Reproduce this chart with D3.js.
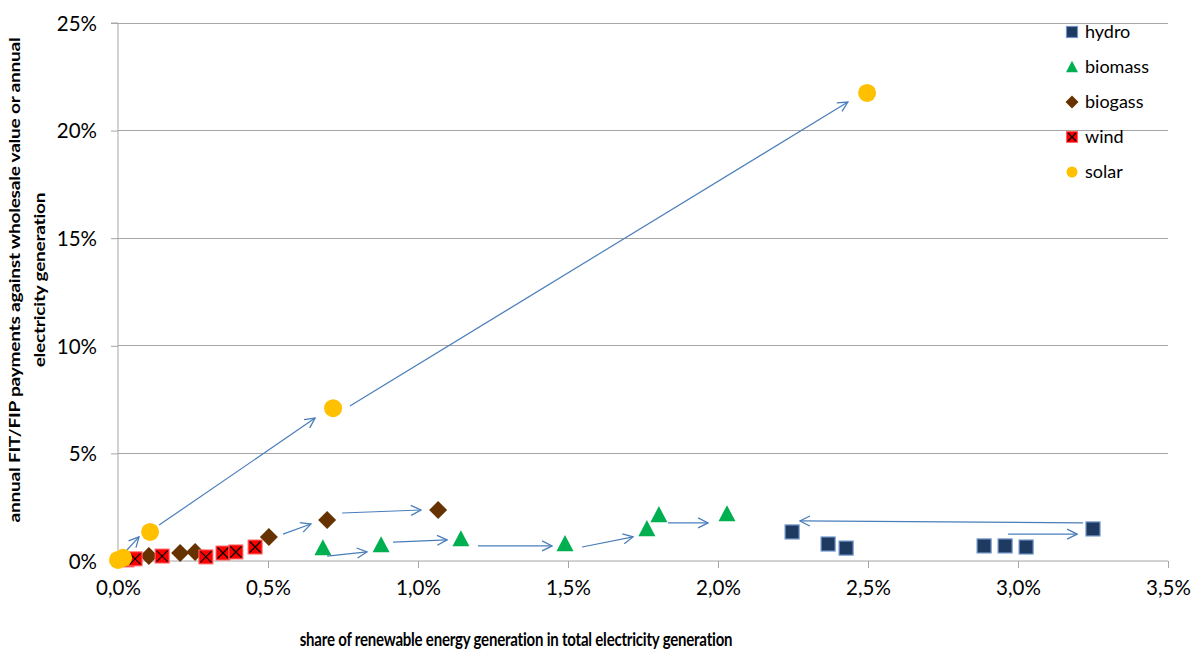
<!DOCTYPE html>
<html>
<head>
<meta charset="utf-8">
<script src="https://cdn.jsdelivr.net/npm/d3@7"></script>
<style>
  html, body { margin: 0; padding: 0; background: #fff; }
  svg { display: block; font-family: Lato, "Open Sans", sans-serif; }
</style>
</head>
<body>
<svg id="chart" width="1195" height="657"></svg>
<script>
// ---- data (x: share of RES generation %, y: FIT/FIP payments %) ----
const hydroX   = [2.247, 2.367, 2.427, 2.887, 2.957, 3.027, 3.25];
const hydroY   = [1.35, 0.79, 0.60, 0.70, 0.70, 0.65, 1.49];
const biomassX = [0.683, 0.877, 1.143, 1.49, 1.763, 1.803, 2.03];
const biomassY = [0.60, 0.74, 1.02, 0.79, 1.49, 2.14, 2.18];
const biogasX  = [0.103, 0.207, 0.257, 0.503, 0.697, 1.067];
const biogasY  = [0.23, 0.37, 0.42, 1.12, 1.90, 2.37];
const windX    = [0.03, 0.057, 0.147, 0.293, 0.35, 0.393, 0.457];
const windY    = [0.05, 0.10, 0.23, 0.19, 0.37, 0.42, 0.65];
const solarX   = [0.0, 0.017, 0.107, 0.717, 2.497];
const solarY   = [0.05, 0.15, 1.35, 7.10, 21.75];

// arrows [x1, y1, x2, y2] in data units
const arrows = [
  [0.03, 0.51, 0.07, 1.12],
  [0.137, 1.67, 0.657, 6.64],
  [0.773, 7.2, 2.433, 21.33],
  [0.55, 1.25, 0.643, 1.72],
  [0.747, 2.23, 1.01, 2.37],
  [0.697, 0.23, 0.83, 0.42],
  [0.917, 0.88, 1.097, 0.98],
  [1.2, 0.70, 1.447, 0.70],
  [1.547, 0.65, 1.717, 1.12],
  [1.833, 1.77, 1.967, 1.77],
  [3.217, 1.77, 2.273, 1.86],
  [2.967, 1.25, 3.197, 1.25]
];

const xTicks = [0, 0.5, 1.0, 1.5, 2.0, 2.5, 3.0, 3.5];
const yTicks = [0, 5, 10, 15, 20, 25];
const seriesNames = ["hydro", "biomass", "biogass", "wind", "solar"];

const xTitle = "share of renewable energy generation in total electricity generation";
const yTitle1 = "annual FIT/FIP payments against wholesale value or annual";
const yTitle2 = "electricity generation";

// ---- layout ----
const svg = d3.select("#chart");
const L = 118, R = 1168, T = 23, B = 561;
const x = d3.scaleLinear().domain([0, 3.5]).range([L, R]);
const y = d3.scaleLinear().domain([0, 25]).range([B, T]);

// gridlines
svg.append("g").selectAll("line").data(yTicks.filter(d => d > 0)).join("line")
  .attr("x1", L).attr("x2", R)
  .attr("y1", d => y(d)).attr("y2", d => y(d))
  .attr("stroke", "#a6a6a6").attr("stroke-width", 1).attr("shape-rendering", "crispEdges");

// y axis
const yAxis = d3.axisLeft(y).tickValues(yTicks).tickSize(7).tickPadding(14)
  .tickFormat(d => d + "%");
const gy = svg.append("g").attr("transform", `translate(${L},0)`).call(yAxis);
gy.select(".domain").attr("stroke", "#a6a6a6").attr("d", `M-7,${T}H0V${B}`);
gy.selectAll(".tick line").attr("stroke", "#a6a6a6");
gy.selectAll(".tick text").attr("font-size", 20.5).attr("fill", "#000")
  .attr("font-family", "Lato, sans-serif").attr("dy", "0.36em");

// x axis
const xAxis = d3.axisBottom(x).tickValues(xTicks).tickSize(7).tickPadding(12)
  .tickFormat(d => d3.format(".1f")(d).replace(".", ",") + "%");
const gx = svg.append("g").attr("transform", `translate(0,${B})`).call(xAxis);
gx.select(".domain").attr("stroke", "#a6a6a6").attr("d", `M${L},0H${R}`);
gx.selectAll(".tick line").attr("stroke", "#a6a6a6");
gx.selectAll(".tick text").attr("font-size", 20.5).attr("fill", "#000")
  .attr("font-family", "Lato, sans-serif");

// axis titles
svg.append("text").attr("transform", "translate(516,646) scale(1,1.25)")
  .attr("text-anchor", "middle")
  .attr("font-size", 15).attr("font-weight", "bold").attr("fill", "#000")
  .attr("letter-spacing", "-0.2").text(xTitle);
const yt = svg.append("text").attr("transform", "translate(20,280) rotate(-90) scale(1.32,1)")
  .attr("text-anchor", "middle").attr("font-size", 14.5).attr("font-weight", "bold")
  .attr("fill", "#000").attr("letter-spacing", "-0.2");
yt.append("tspan").attr("x", 0).attr("dy", 0).text(yTitle1);
yt.append("tspan").attr("x", 0).attr("dy", 25).text(yTitle2);

// arrow marker
svg.append("defs").append("marker")
  .attr("id", "head").attr("viewBox", "0 0 12 12").attr("refX", 11).attr("refY", 6)
  .attr("markerWidth", 12).attr("markerHeight", 12).attr("markerUnits", "userSpaceOnUse")
  .attr("orient", "auto")
  .append("path").attr("d", "M1,1 L11,6 L1,11").attr("fill", "none")
  .attr("stroke", "#4a7ebb").attr("stroke-width", 1.3);

svg.append("g").selectAll("line").data(arrows).join("line")
  .attr("x1", d => x(d[0])).attr("y1", d => y(d[1]))
  .attr("x2", d => x(d[2])).attr("y2", d => y(d[3]))
  .attr("stroke", "#4a7ebb").attr("stroke-width", 1.2)
  .attr("marker-end", "url(#head)");

// marker drawers
function drawHydro(g, cx, cy, s = 14) {
  g.append("rect").attr("x", cx - s / 2).attr("y", cy - s / 2).attr("width", s).attr("height", s)
    .attr("fill", "#1f3a60").attr("stroke", "#6f93c6").attr("stroke-width", 1.2);
}
function drawBiomass(g, cx, cy, s = 17) {
  const h = s * 0.95;
  g.append("path").attr("d", `M${cx},${cy - h * 0.55} L${cx + s / 2},${cy + h * 0.45} L${cx - s / 2},${cy + h * 0.45}Z`)
    .attr("fill", "#00b050");
}
function drawBiogas(g, cx, cy, s = 9) {
  g.append("path").attr("d", `M${cx},${cy - s} L${cx + s},${cy} L${cx},${cy + s} L${cx - s},${cy}Z`)
    .attr("fill", "#663300");
}
function drawWind(g, cx, cy, s = 14) {
  g.append("rect").attr("x", cx - s / 2).attr("y", cy - s / 2).attr("width", s).attr("height", s)
    .attr("fill", "#ff0000").attr("stroke", "#ff6666").attr("stroke-width", 1);
  const k = s / 2 - 1.5;
  g.append("path").attr("d", `M${cx - k},${cy - k} L${cx + k},${cy + k} M${cx + k},${cy - k} L${cx - k},${cy + k}`)
    .attr("stroke", "#000").attr("stroke-width", 1.2);
}
function drawSolar(g, cx, cy, r = 9) {
  g.append("circle").attr("cx", cx).attr("cy", cy).attr("r", r).attr("fill", "#ffc000");
}

const series = [
  { xs: hydroX, ys: hydroY, draw: drawHydro },
  { xs: biomassX, ys: biomassY, draw: drawBiomass },
  { xs: biogasX, ys: biogasY, draw: drawBiogas },
  { xs: windX, ys: windY, draw: drawWind },
  { xs: solarX, ys: solarY, draw: drawSolar }
];
series.forEach(sr => {
  const g = svg.append("g");
  sr.xs.forEach((v, i) => sr.draw(g, x(v), y(sr.ys[i])));
});

// legend
const lg = svg.append("g");
const legY = [32, 67, 102, 137, 172];
const legDraw = [
  (g, cx, cy) => drawHydro(g, cx, cy, 11),
  (g, cx, cy) => drawBiomass(g, cx, cy, 12),
  (g, cx, cy) => drawBiogas(g, cx, cy, 6.5),
  (g, cx, cy) => drawWind(g, cx, cy, 11),
  (g, cx, cy) => drawSolar(g, cx, cy, 5.5)
];
seriesNames.forEach((n, i) => {
  legDraw[i](lg, 1072, legY[i]);
  lg.append("text").attr("x", 1085).attr("y", legY[i]).attr("dy", "0.36em")
    .attr("font-size", 18).attr("fill", "#000").text(n);
});
</script>
</body>
</html>
